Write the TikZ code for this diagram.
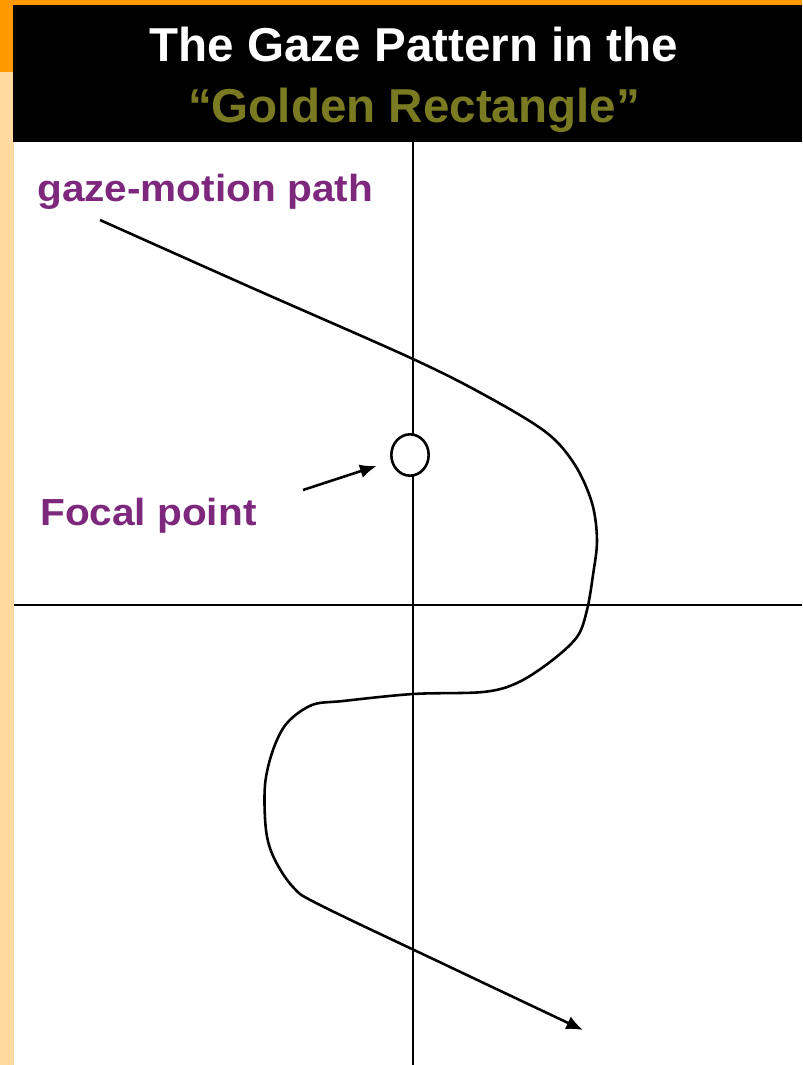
\documentclass[tikz,border=0pt]{standalone}
\usepackage{fontspec}
\setmainfont{Liberation Sans}
\usetikzlibrary{shapes.geometric,arrows.meta}
\definecolor{deeporange}{RGB}{255,153,0}
\definecolor{paleorange}{RGB}{255,217,160}
\definecolor{labelpurple}{RGB}{125,40,125}
\definecolor{titleolive}{RGB}{122,122,34}

\begin{document}
\begin{tikzpicture}[x=0.03cm,y=-0.03cm,
    title/.style={font=\bfseries\fontsize{40.6}{44}\selectfont, inner sep=0, anchor=base},
    note/.style={font=\bfseries\fontsize{32.2}{36}\selectfont, text=labelpurple, inner sep=0, anchor=base west},
    axis/.style={line width=2.2pt},
    pointer/.style={line width=2.2pt, -{Latex[length=0.5cm,width=0.42cm]}, shorten >=0.45cm},
    gaze/.style={line width=2.2pt, -{Latex[length=0.5cm,width=0.42cm]}}]
    \useasboundingbox (0,0) rectangle (802,1065);
    \fill[white] (0,0) rectangle (802,1065);

    % slide frame and header
    \fill[deeporange] (0,0) rectangle (802,5);
    \fill[deeporange] (0,0) rectangle (14,72);
    \fill[paleorange] (0,72) rectangle (14,1065);
    \fill[black] (13,5) rectangle (802,142);
    \node[title, text=white] (head) at (414,62) {The Gaze Pattern in the};
    \node[title, text=titleolive] (sub) at (414,122) {“Golden Rectangle”};

    % golden section lines
    \coordinate (vtop) at (413,142);
    \coordinate (vbot) at (413,1065);
    \coordinate (hleft) at (14,605);
    \coordinate (hright) at (802,605);
    \draw[axis] (vtop) -- (vbot);
    \draw[axis] (hleft) -- (hright);

    \node[note] (pathlbl) at (37,201) {\scalebox{1.075}[1]{gaze-motion path}};
    \node[note] (focallbl) at (40,525) {\scalebox{1.075}[1]{Focal point}};

    \node[ellipse, draw, fill=white, line width=2.2pt, minimum width=1.12cm,
          minimum height=1.24cm, inner sep=0] (focal) at (410,455) {};
    \coordinate (ptail) at (303,490);
    \draw[pointer] (ptail) -- (focal);

    % gaze path
    \draw[gaze] plot[smooth, tension=0.55] coordinates {
        (100,220) (250,287) (413,359) (490,398) (547,433) (575,465)
        (592,503) (597,540) (593,575) (587,610) (577,637) (550,662)
        (517,683) (483,692) (413,694) (343,701) (312,705) (287,723)
        (273,750) (265,785) (266,830) (274,858) (293,887) (320,905)
        (450,967) (583,1030)};
\end{tikzpicture}
\end{document}
